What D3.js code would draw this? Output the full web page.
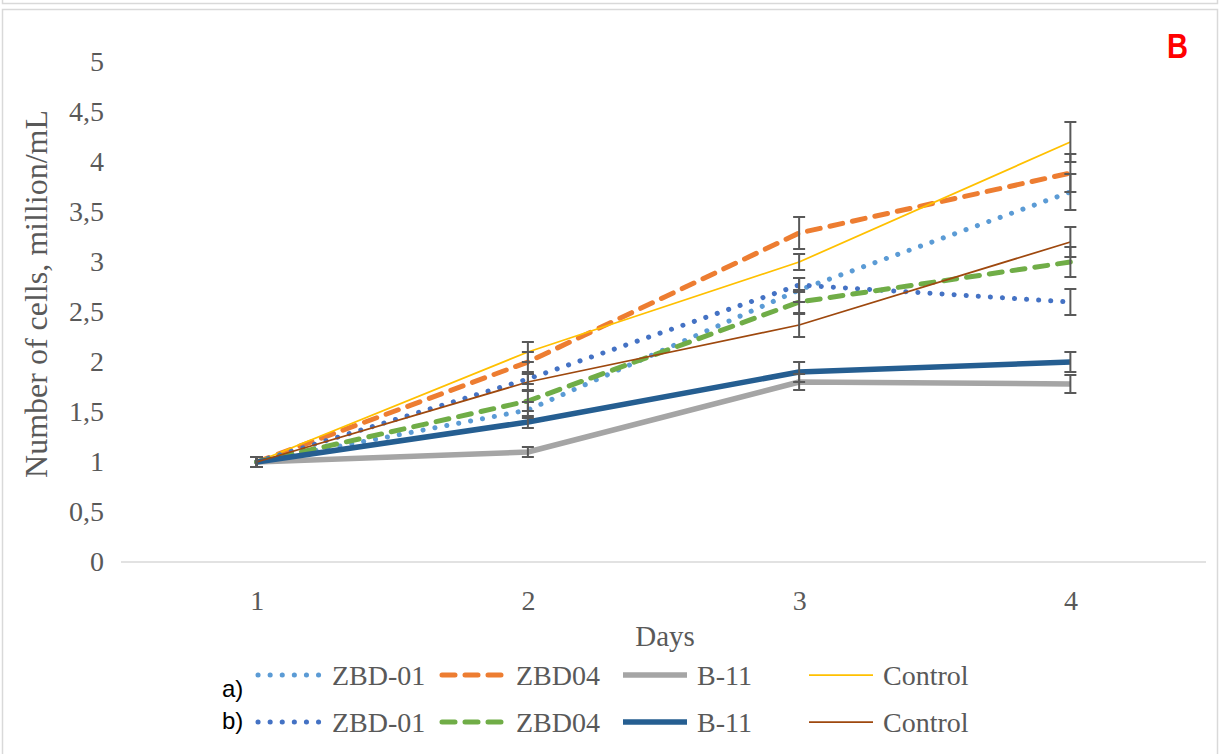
<!DOCTYPE html>
<meta charset="utf-8">
<style>
  body { margin: 0; background: #fff; }
  .tick text, .lab { font-family: "Liberation Serif", "Times New Roman", serif; fill: #595959; }
</style>
<body>
<svg id="chart" width="1229" height="754"></svg>
<script src="https://d3js.org/d3.v7.min.js"></script>
<script>
// days on the x axis
var days = ["1", "2", "3", "4"];
var yTicks = [0, 0.5, 1, 1.5, 2, 2.5, 3, 3.5, 4, 4.5, 5];

// a) series
var aZBD01 = [1, 1.52, 2.72, 3.7];
var aZBD04 = [1, 2.0, 3.29, 3.89];
var aB11 = [1, 1.1, 1.8, 1.78];
var aControl = [1, 2.1, 3.0, 4.2];
// b) series
var bZBD01 = [1, 1.83, 2.77, 2.6];
var bZBD04 = [1, 1.61, 2.6, 3.0];
var bB11 = [1, 1.4, 1.9, 2.0];
var bControl = [1, 1.8, 2.37, 3.2];

// error bars (+/-)
var aZBD01Err = [0.05, 0.08, 0.12, 0.18];
var aZBD04Err = [0.05, 0.1, 0.16, 0.19];
var aB11Err = [0.05, 0.05, 0.08, 0.09];
var aControlErr = [0.05, 0.1, 0.08, 0.2];
var bZBD01Err = [0.05, 0.05, 0.07, 0.13];
var bZBD04Err = [0.05, 0.1, 0.12, 0.15];
var bB11Err = [0.05, 0.06, 0.1, 0.1];
var bControlErr = [0.05, 0.08, 0.12, 0.15];

var series = [
  {name: "ZBD-01", vals: aZBD01, err: aZBD01Err, color: "#5B9BD5", w: 5, dash: "0.1 12", cap: "round"},
  {name: "ZBD04", vals: aZBD04, err: aZBD04Err, color: "#ED7D31", w: 5, dash: "13 10", cap: "round"},
  {name: "B-11", vals: aB11, err: aB11Err, color: "#A5A5A5", w: 5.5, dash: null, cap: "butt"},
  {name: "Control", vals: aControl, err: aControlErr, color: "#FFC000", w: 1.75, dash: null, cap: "butt"},
  {name: "ZBD-01", vals: bZBD01, err: bZBD01Err, color: "#4472C4", w: 5, dash: "0.1 12", cap: "round"},
  {name: "ZBD04", vals: bZBD04, err: bZBD04Err, color: "#70AD47", w: 5, dash: "13 10", cap: "round"},
  {name: "B-11", vals: bB11, err: bB11Err, color: "#255E91", w: 5.5, dash: null, cap: "butt"},
  {name: "Control", vals: bControl, err: bControlErr, color: "#9E480E", w: 1.75, dash: null, cap: "butt"}
];

var svg = d3.select("#chart");

// outer frames
svg.append("path").attr("d", "M2.5,0V3.5H1217.5V0").attr("fill", "none").attr("stroke", "#D9D9D9").attr("stroke-width", 1.5);
svg.append("rect").attr("x", 2.5).attr("y", 9.5).attr("width", 1215).attr("height", 760)
  .attr("fill", "#fff").attr("stroke", "#D9D9D9").attr("stroke-width", 1.5);

var plot = {left: 121, right: 1206, top: 62, bottom: 562};

var x = d3.scalePoint().domain(days).range([plot.left, plot.right]).padding(0.5);
var y = d3.scaleLinear().domain([0, 5]).range([plot.bottom, plot.top]);

// y axis labels (no line)
var yAxis = svg.append("g").attr("transform", "translate(" + 104 + ",0)")
  .call(d3.axisLeft(y).tickValues(yTicks).tickSize(0).tickPadding(0)
    .tickFormat(function(d) { return String(d).replace(".", ","); }));
yAxis.select(".domain").remove();
yAxis.selectAll("text").attr("font-size", 28);

// x axis
var xAxis = svg.append("g").attr("transform", "translate(0," + plot.bottom + ")")
  .call(d3.axisBottom(x).tickSize(0).tickPadding(28));
xAxis.select(".domain").attr("d", "M" + plot.left + ",0H" + plot.right).attr("stroke", "#D9D9D9").attr("stroke-width", 1.5);
xAxis.selectAll("text").attr("font-size", 28);

// axis titles
svg.append("text").attr("class", "lab").attr("x", 665).attr("y", 646).attr("text-anchor", "middle")
  .attr("font-size", 29).text("Days");
svg.append("text").attr("class", "lab").attr("transform", "translate(47,294) rotate(-90)")
  .attr("text-anchor", "middle").attr("font-size", 32).text("Number of cells, million/mL");

// lines
var line = d3.line().x(function(d, i) { return x(days[i]); }).y(function(d) { return y(d); });

series.forEach(function(s) {
  svg.append("path").datum(s.vals)
    .attr("d", line)
    .attr("fill", "none")
    .attr("stroke", s.color)
    .attr("stroke-width", s.w)
    .attr("stroke-linecap", s.cap)
    .attr("stroke-linejoin", "round")
    .attr("stroke-dasharray", s.dash);
});

// error bars on top
var eb = svg.append("g").attr("stroke", "#595959").attr("stroke-width", 2);
series.forEach(function(s) {
  s.vals.forEach(function(v, i) {
    var cx = x(days[i]), hi = y(v + s.err[i]), lo = y(v - s.err[i]);
    eb.append("line").attr("x1", cx).attr("x2", cx).attr("y1", hi).attr("y2", lo);
    eb.append("line").attr("x1", cx - 6).attr("x2", cx + 6).attr("y1", hi).attr("y2", hi);
    eb.append("line").attr("x1", cx - 6).attr("x2", cx + 6).attr("y1", lo).attr("y2", lo);
  });
});

// legend
var legX = [256, 440, 621, 807];
var legY = [675, 722];
var rows = ["a)", "b)"];
var rowLabY = [697, 729];
series.forEach(function(s, k) {
  var r = Math.floor(k / 4), c = k % 4;
  var g = svg.append("g").attr("transform", "translate(" + legX[c] + "," + legY[r] + ")");
  g.append("line").attr("x1", 2).attr("x2", 66).attr("y1", 0).attr("y2", 0)
    .attr("stroke", s.color).attr("stroke-width", s.w)
    .attr("stroke-linecap", s.cap).attr("stroke-dasharray", s.dash);
  g.append("text").attr("class", "lab").attr("x", 76).attr("y", 10).attr("font-size", 28).text(s.name);
});
rows.forEach(function(t, r) {
  svg.append("text").attr("x", 222).attr("y", rowLabY[r])
    .attr("font-family", "'Liberation Sans', Arial, sans-serif").attr("font-size", 24).attr("fill", "#000").text(t);
});

// panel letter
svg.append("text").attr("x", 1167).attr("y", 58).attr("font-family", "'Liberation Sans', Arial, sans-serif")
  .attr("font-weight", "bold").attr("font-size", 35).attr("fill", "#FF0000")
  .attr("textLength", 21).attr("lengthAdjust", "spacingAndGlyphs").text("B");
</script>
</body>
